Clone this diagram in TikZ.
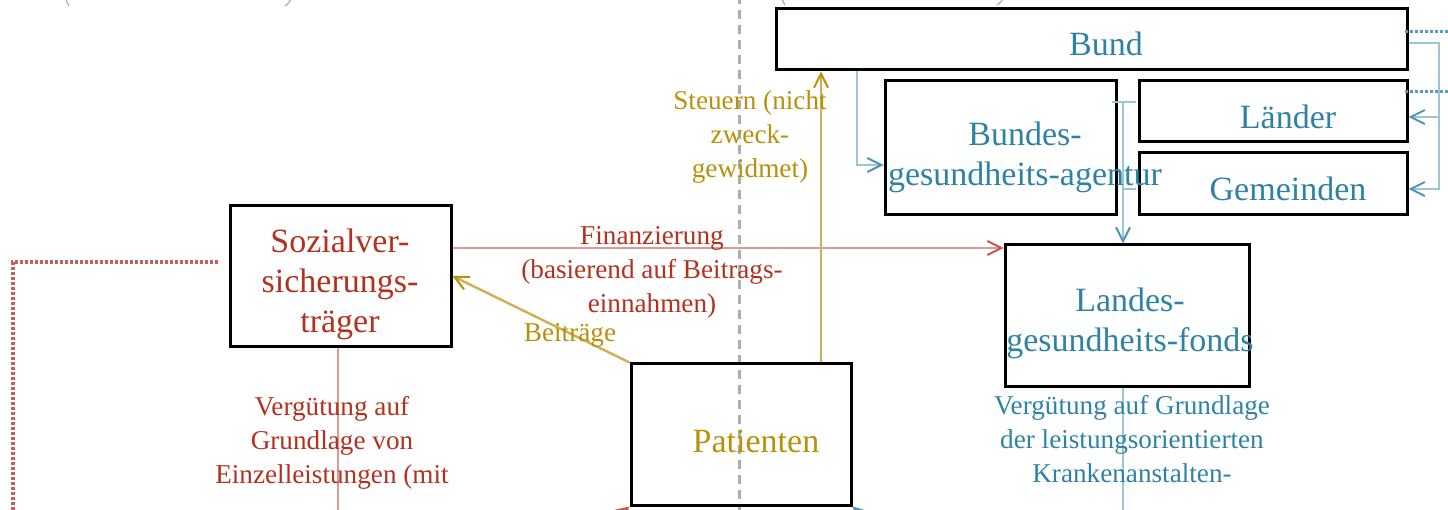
\documentclass[tikz,border=0pt]{standalone}
\usepackage{fontspec}
\setmainfont{Liberation Serif}
\usetikzlibrary{arrows.meta}
\definecolor{redtxt}{HTML}{B3311E}
\definecolor{redline}{HTML}{DC9A96}
\definecolor{reddots}{HTML}{C8605A}
\definecolor{goldtxt}{HTML}{B8900A}
\definecolor{goldline}{HTML}{CFAE55}
\definecolor{bluetxt}{HTML}{2E82A3}
\definecolor{blueline}{HTML}{9CC6D5}
\definecolor{bluedots}{HTML}{5A9CB8}
\definecolor{grayline}{HTML}{A8B0B0}
\begin{document}
\begin{tikzpicture}[x=1pt,y=-1pt,
  box/.style={draw=black, line width=3pt, inner sep=0pt},
  bt/.style={font=\fontsize{34}{40}\selectfont, align=center, inner sep=0pt, anchor=base},
  lt/.style={font=\fontsize{27.2}{34}\selectfont, align=center, inner sep=0pt, anchor=base},
  redln/.style={draw=redline, line width=2.4pt},
  goldln/.style={draw=goldline, line width=2.4pt},
  blueln/.style={draw=blueline, line width=2.6pt},
  redhead/.style={-{Straight Barb[length=14pt,width=14pt,line width=2pt,color=redtxt!80]}},
  goldhead/.style={-{Straight Barb[length=14pt,width=14pt,line width=2pt,color=goldtxt]}},
  bluehead/.style={-{Straight Barb[length=14pt,width=14pt,line width=2pt,color=bluetxt!85]}}
]
\useasboundingbox (0,0) rectangle (1448,510);
\clip (0,0) rectangle (1448,510);

% gray dashed separator and cut-off brackets
\coordinate (gtop) at (739,-5);
\coordinate (gbot) at (739,520);
\draw[grayline, line width=3pt, dash pattern=on 9pt off 6pt] (gtop) -- (gbot);
\draw[grayline, line width=1.3pt] (66,-4) .. controls (66.5,2) .. (69,6);
\draw[grayline, line width=1.3pt] (291,-4) .. controls (290,2) .. (285,6);
\draw[grayline, line width=1.3pt] (782,-4) .. controls (782.5,1) .. (785,5);
\draw[grayline, line width=1.3pt] (1003,-4) .. controls (1002,1) .. (997,5);

% boxes
\node[box, minimum width=631pt, minimum height=61pt] (bund) at (1091.5,39.5) {};
\node[box, minimum width=231pt, minimum height=134pt] (agentur) at (1000.5,148) {};
\node[box, minimum width=268pt, minimum height=61pt] (laender) at (1273,111.5) {};
\node[box, minimum width=268pt, minimum height=62pt] (gemeinden) at (1273,184) {};
\node[box, minimum width=244pt, minimum height=141pt] (landes) at (1127,315.5) {};
\node[box, minimum width=221pt, minimum height=141pt] (sozial) at (340.5,276.5) {};
\node[box, minimum width=220pt, minimum height=141pt] (patienten) at (741,434.5) {};

% red connectors
\draw[redln, redhead] (sozial.east |- 0,248) -- (landes.west |- 0,248);
\coordinate (sozbot) at (338,520);
\draw[redln] (sozial.south -| 338,0) -- (sozbot);
\coordinate (rd1) at (218,262);
\coordinate (rd2) at (13,262);
\coordinate (rd3) at (13,520);
\draw[reddots, line width=4pt, dash pattern=on 3pt off 2pt] (rd1) -- (rd2) -- (rd3);
\coordinate (redtail) at (598,532);
\draw[redln, redhead] (redtail) -- (patienten.south west);

% gold connectors
\draw[goldln, goldhead] (patienten.north -| 821,0) -- (bund.south -| 821,0);
\draw[goldln, goldhead] (patienten.north west) -- (sozial.east |- 0,276);

% blue connectors
\draw[blueln, bluehead] (bund.south -| 857,0) |- (agentur.west |- 0,165);
\coordinate (tl) at (1112,102);
\coordinate (tr) at (1136,102);
\coordinate (tm) at (1123,102);
\draw[blueln] (tl) -- (tr);
\draw[blueln, bluehead] (tm) -- (landes.north -| 1123,0);
\coordinate (tk1) at (1123,189);
\coordinate (tk2) at (1136,189);
\draw[blueln] (tk1) -- (tk2);
\coordinate (rc) at (1439,117);
\draw[blueln, bluehead] (bund.east |- 0,43) -- (1439,43) |- (gemeinden.east |- 0,189);
\draw[blueln, bluehead] (rc) -- (laender.east |- 0,117);
\coordinate (bd1) at (1452,32);
\coordinate (bd2) at (1452,92);
\draw[bluedots, line width=3pt, dash pattern=on 3pt off 2pt] ([xshift=-4pt]bund.east |- 0,32) -- (bd1);
\draw[bluedots, line width=3pt, dash pattern=on 3pt off 2pt] ([xshift=-4pt]laender.east |- 0,92) -- (bd2);
\coordinate (landbot) at (1123,520);
\draw[blueln] (landes.south -| 1123,0) -- (landbot);
\coordinate (bluetail) at (880,532);
\draw[blueln, bluehead] (bluetail) -- (patienten.south east);

% box texts (anchor base = baseline of the last line)
\node[bt, text=bluetxt] (tbund) at (1106,56) {Bund};
\node[bt, text=bluetxt] (tagentur) at (1025,186) {Bundes-\\gesundheits-agentur};
\node[bt, text=bluetxt] (tlaender) at (1288,129) {Länder};
\node[bt, text=bluetxt] (tgem) at (1288,201) {Gemeinden};
\node[bt, text=bluetxt] (tlandes) at (1130,352) {Landes-\\gesundheits-fonds};
\node[bt, text=redtxt] (tsozial) at (340,333) {Sozialver-\\sicherungs-\\träger};
\node[bt, text=goldtxt] (tpat) at (756,452) {Patienten};

% connector labels
\node[lt, text=redtxt] (lfin) at (652,313) {Finanzierung\\(basierend auf Beitrags-\\einnahmen)};
\node[lt, text=goldtxt] (lbei) at (570,342) {Beiträge};
\node[lt, text=goldtxt] (lsteu) at (750,178) {Steuern (nicht\\zweck-\\gewidmet)};
\node[lt, text=redtxt] (lverg1) at (332,483) {Vergütung auf\\Grundlage von\\Einzelleistungen (mit};
\node[lt, text=bluetxt] (lverg2) at (1132,482) {Vergütung auf Grundlage\\der leistungsorientierten\\Krankenanstalten-};
\end{tikzpicture}
\end{document}
